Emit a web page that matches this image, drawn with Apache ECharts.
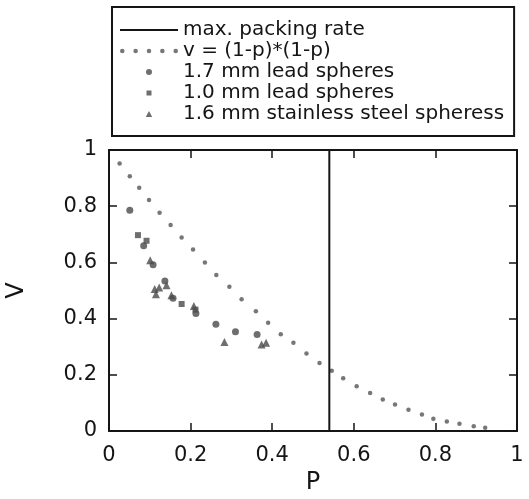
<!DOCTYPE html>
<html><head><meta charset="utf-8">
<script src="https://cdn.jsdelivr.net/npm/echarts@6/dist/echarts.min.js"></script>
<style>html,body{margin:0;padding:0;background:#fff}#c{width:529px;height:499px}</style>
</head><body><div id="c"></div>
<script>
// ---- data ----
const seriesNames = ['max. packing rate', 'v = (1-p)*(1-p)', '1.7 mm lead spheres', '1.0 mm lead spheres', '1.6 mm stainless steel spheress'];
const packingRate = 0.54;
const curveP = [0.026,0.051,0.074,0.098,0.124,0.151,0.178,0.206,0.235,0.263,0.295,0.325,0.360,0.390,0.421,0.452,0.484,0.516,0.546,0.574,0.607,0.640,0.671,0.701,0.734,0.767,0.795,0.828,0.859,0.894,0.922];
const curveV = [0.952,0.907,0.866,0.822,0.777,0.733,0.689,0.646,0.600,0.555,0.513,0.469,0.426,0.385,0.344,0.314,0.276,0.242,0.214,0.188,0.159,0.135,0.112,0.094,0.076,0.059,0.044,0.034,0.026,0.017,0.012];
const lead17P = [0.051,0.085,0.108,0.137,0.157,0.213,0.262,0.310,0.363];
const lead17V = [0.786,0.659,0.592,0.534,0.472,0.418,0.380,0.353,0.343];
const lead10P = [0.071,0.092,0.178,0.212];
const lead10V = [0.697,0.677,0.452,0.432];
const steelP = [0.101,0.112,0.123,0.115,0.141,0.153,0.208,0.283,0.374,0.385];
const steelV = [0.608,0.505,0.511,0.487,0.519,0.483,0.445,0.317,0.308,0.314];
const xTickLabels = ['0','0.2','0.4','0.6','0.8','1'];
const yTickLabels = ['0','0.2','0.4','0.6','0.8','1'];
const xAxisName = 'P';
const yAxisName = 'V';

const zip = (a, b) => a.map((x, i) => [x, b[i]]);
const FONT = 'DejaVu Sans';
const INK = '#151515';
const MARK = '#4a4a4a';

const axisCommon = {
  type: 'value', min: 0, max: 1, interval: 0.2,
  axisLine: { show: true, onZero: false, lineStyle: { color: INK, width: 2 } },
  axisTick: { show: true, inside: true, length: 8, lineStyle: { color: INK, width: 1.5 } },
  splitLine: { show: false }
};

// legend icons: wide transparent frame so the marker stays small and centred
const frame = 'M0,0 h0.01 v0.01 h-0.01 Z M58,6 h0.01 v0.01 h-0.01 Z ';
const rectIcon = 'path://' + frame + 'M26.5,0.5 h5 v5 h-5 Z';
const triIcon = 'path://' + frame + 'M29,-0.5 L32.5,6 L25.5,6 Z';

const option = {
  animation: false,
  backgroundColor: '#fff',
  grid: { left: 109, right: 12, top: 150, bottom: 68, outerBoundsMode: 'none' },
  legend: {
    orient: 'vertical', left: 112, top: 7,
    padding: [13, 10, 12, 8],
    itemWidth: 58, itemHeight: 6, itemGap: 1,
    borderColor: INK, borderWidth: 2,
    selectedMode: false,
    symbolKeepAspect: true,
    textStyle: { fontFamily: FONT, fontSize: 20, color: INK, lineHeight: 20 },
    data: [
      { name: seriesNames[0], icon: 'path://M0,0 h58 v1.8 h-58 Z' },
      { name: seriesNames[1], icon: 'path://M0,2 a2,2 0 1,0 4,0 a2,2 0 1,0 -4,0 Z M11.7,2 a2,2 0 1,0 4,0 a2,2 0 1,0 -4,0 Z M23.4,2 a2,2 0 1,0 4,0 a2,2 0 1,0 -4,0 Z M35.1,2 a2,2 0 1,0 4,0 a2,2 0 1,0 -4,0 Z M46.8,2 a2,2 0 1,0 4,0 a2,2 0 1,0 -4,0 Z' },
      { name: seriesNames[2] },
      { name: seriesNames[3], icon: rectIcon },
      { name: seriesNames[4], icon: triIcon }
    ]
  },
  xAxis: [
    Object.assign({}, axisCommon, {
      position: 'bottom',
      name: xAxisName, nameLocation: 'middle', nameGap: 38,
      nameTextStyle: { fontFamily: FONT, fontSize: 24, color: INK },
      axisLabel: { margin: 14, fontFamily: FONT, fontSize: 21, color: INK,
        formatter: v => xTickLabels[Math.round(v / 0.2)] }
    }),
    Object.assign({}, axisCommon, { position: 'top', axisLabel: { show: false } })
  ],
  yAxis: [
    Object.assign({}, axisCommon, {
      position: 'left',
      name: yAxisName, nameLocation: 'middle', nameGap: 80, nameRotate: 90,
      nameTextStyle: { fontFamily: FONT, fontSize: 24, color: INK },
      axisLabel: { margin: 12, fontFamily: FONT, fontSize: 21, color: INK,
        formatter: v => yTickLabels[Math.round(v / 0.2)] }
    }),
    Object.assign({}, axisCommon, { position: 'right', axisLabel: { show: false } })
  ],
  series: [
    { name: seriesNames[0], type: 'line', symbol: 'none',
      data: [[packingRate, 0], [packingRate, 1]],
      itemStyle: { color: INK }, lineStyle: { color: INK, width: 2 }, z: 3 },
    { name: seriesNames[1], type: 'scatter', symbol: 'circle', symbolSize: 4.5,
      data: zip(curveP, curveV), itemStyle: { color: '#555' }, z: 2 },
    { name: seriesNames[2], type: 'scatter', symbol: 'circle', symbolSize: 7,
      data: zip(lead17P, lead17V), itemStyle: { color: MARK }, z: 4 },
    { name: seriesNames[3], type: 'scatter', symbol: 'rect', symbolSize: 6,
      data: zip(lead10P, lead10V), itemStyle: { color: MARK }, z: 4 },
    { name: seriesNames[4], type: 'scatter', symbol: 'triangle', symbolSize: 8,
      data: zip(steelP, steelV), itemStyle: { color: MARK }, z: 4 }
  ]
};

const chart = echarts.init(document.getElementById('c'), null, { renderer: 'canvas' });
chart.setOption(option);
</script>
</body></html>
